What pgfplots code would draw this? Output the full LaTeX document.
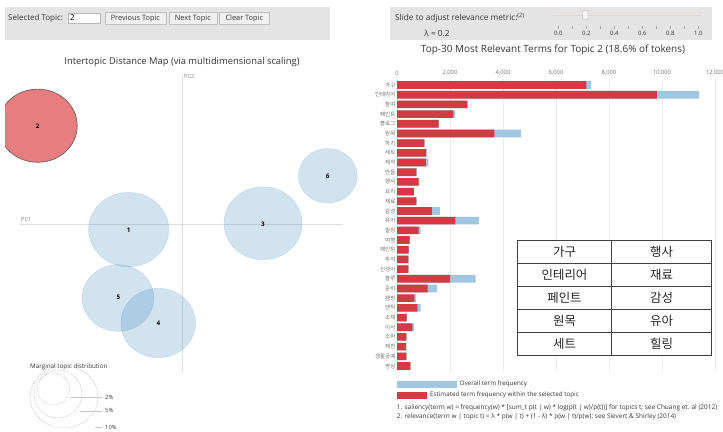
\documentclass[border=0pt]{standalone}
\usepackage{pgfplots}
\pgfplotsset{compat=1.18}
\usepackage{pgfplotstable}
\usepackage{fontspec}
\setmainfont{Open Sans}
\newfontfamily\kr{Noto Sans CJK KR}
\definecolor{barred}{RGB}{212,58,68}
\definecolor{barblue}{RGB}{160,198,226}
\definecolor{cblue}{RGB}{31,119,180}
\definecolor{cred}{RGB}{214,39,40}
\definecolor{panel}{RGB}{228,228,228}
\definecolor{txt}{RGB}{55,55,55}

\pgfplotstableread{
row est total
1 7150 7320
2 9810 11400
3 2650 2680
4 2130 2180
5 1570 1590
6 3670 4680
7 1030 1040
8 1090 1145
9 1090 1180
10 730 740
11 820 840
12 640 650
13 730 740
14 1320 1620
15 2200 3095
16 820 895
17 480 490
18 440 450
19 430 440
20 430 440
21 2000 2970
22 1160 1500
23 655 720
24 770 895
25 365 375
26 580 640
27 350 360
28 340 350
29 350 360
30 500 510
}\terms

\begin{document}
\begin{tikzpicture}
\path[use as bounding box, fill=white] (0,0) rectangle (723bp,-432bp);
\begin{scope}[x=1bp,y=-1bp]
 % ---- left control panel
 \fill[panel] (5,6.7) rectangle (330,40);
 \node[anchor=west, font=\fontsize{8}{9}\selectfont, text=txt, inner sep=0] at (8,18) {Selected Topic:};
 \draw[gray!55, fill=white, line width=0.4pt] (68.3,12.7) rectangle (100,23.6);
 \node[anchor=west, font=\fontsize{8}{9}\selectfont, text=black, inner sep=0] at (70,18) {2};
 \foreach \a/\b/\t in {105/165.7/Previous Topic, 169/216.7/Next Topic, 219.3/269.3/Clear Topic}{
   \draw[gray!50, fill=gray!12, line width=0.4pt] (\a,12.3) rectangle (\b,24.3);
   \node[font=\fontsize{7.4}{8}\selectfont, text=txt, inner sep=0] at ({(\a+\b)/2},18.3) {\t};
 }
 \node[font=\fontsize{9.4}{11}\selectfont, text=txt] at (182,61.7) {Intertopic Distance Map (via multidimensional scaling)};
 % ---- right control panel
 \fill[panel] (390,6.7) rectangle (712,40);
 \node[anchor=west, font=\fontsize{8.3}{9}\selectfont, text=txt, inner sep=0] at (395,18.3) {Slide to adjust relevance metric:\textsuperscript{(2)}};
 \node[font=\fontsize{8.3}{9}\selectfont, text=txt, inner sep=0] at (437,33.3) {λ = 0.2};
 \draw[line width=0.8pt, color={rgb,255:red,226;green,214;blue,210}] (553,15) -- (702,15);
 \foreach \k in {0,...,10}{
   \draw[gray!70, line width=0.35pt] ({558.3+14*\k},25.5) -- ({558.3+14*\k},28.5);
 }
 \foreach \k/\l in {0/0.0,2/0.2,4/0.4,6/0.6,8/0.8,10/1.0}{
   \node[font=\fontsize{6}{7}\selectfont, text=txt, inner sep=0] at ({558.3+14*\k},33.5) {\l};
 }
 \draw[gray!70, fill=gray!8, rounded corners=0.8pt, line width=0.4pt] (582.5,10.5) rectangle (588,19.5);
 \node[font=\fontsize{10}{12}\selectfont, text=txt] at (553,50) {Top-30 Most Relevant Terms for Topic 2 (18.6\% of tokens)};
\end{scope}

% ---------------- left: intertopic distance map
\begin{axis}[at={(5bp,-60bp)}, anchor=north west, scale only axis,
  width=355bp, height=372bp, xmin=5, xmax=360, ymin=60, ymax=432,
  y dir=reverse, axis lines=none, clip marker paths=true]
 \addplot[gray!25, line width=0.5pt] coordinates {(20,224) (343,224)};
 \addplot[gray!25, line width=0.5pt] coordinates {(182,75) (182,372)};
 \node[anchor=west, font=\fontsize{5.6}{6}\selectfont, text=gray, inner sep=0] at (axis cs:21,219) {PC1};
 \node[anchor=west, font=\fontsize{5.6}{6}\selectfont, text=gray, inner sep=0] at (axis cs:184,76.5) {PC2};
 % topic circles
 \addplot[only marks, mark=*, mark size=40.3, mark options={fill=cblue, fill opacity=0.2, draw=cblue, draw opacity=0.2, line width=0.4pt, yscale=0.925}] coordinates {(128.7,229.5)};
 \addplot[only marks, mark=*, mark size=39.7, mark options={fill=cred, fill opacity=0.6, draw=black!65, line width=0.6pt, yscale=0.925}] coordinates {(37.7,125.7)};
 \addplot[only marks, mark=*, mark size=39.2, mark options={fill=cblue, fill opacity=0.2, draw=cblue, draw opacity=0.2, line width=0.4pt, yscale=0.935}] coordinates {(263,223.3)};
 \addplot[only marks, mark=*, mark size=37.5, mark options={fill=cblue, fill opacity=0.2, draw=cblue, draw opacity=0.2, line width=0.4pt, yscale=0.93}] coordinates {(158.2,323)};
 \addplot[only marks, mark=*, mark size=36, mark options={fill=cblue, fill opacity=0.2, draw=cblue, draw opacity=0.2, line width=0.4pt, yscale=0.93}] coordinates {(118,298)};
 \addplot[only marks, mark=*, mark size=29.5, mark options={fill=cblue, fill opacity=0.2, draw=cblue, draw opacity=0.2, line width=0.4pt, yscale=0.93}] coordinates {(327.8,175.8)};
 % topic numbers
 \addplot[draw=none, nodes near coords, point meta=explicit symbolic,
   every node near coord/.style={anchor=center, inner sep=0, font=\fontsize{6.3}{6}\selectfont\bfseries, text=black}]
   coordinates {(128.7,230) [1] (37.7,126) [2] (263,224) [3] (158.3,323.5) [4] (118.3,297.5) [5] (327.7,176) [6]};
 % marginal topic distribution legend
 \node[anchor=west, font=\fontsize{6.3}{7}\selectfont, text=txt, inner sep=0] at (axis cs:30,366.7) {Marginal topic distribution};
 \draw[gray!60, dash pattern=on 0.8pt off 0.8pt, line width=0.4pt] (axis cs:64,397) ellipse [x radius=34bp, y radius=31bp];
 \draw[gray!60, dash pattern=on 0.8pt off 0.8pt, line width=0.4pt] (axis cs:58,394) ellipse [x radius=24bp, y radius=24bp];
 \draw[gray!60, dash pattern=on 0.8pt off 0.8pt, line width=0.4pt] (axis cs:53.5,389) ellipse [x radius=16bp, y radius=16bp];
 \addplot[gray!45, line width=0.4pt] coordinates {(70,397.3) (102,397.3)};
 \addplot[gray!45, line width=0.4pt] coordinates {(80,410.7) (102,410.7)};
 \addplot[gray!45, line width=0.4pt] coordinates {(95,427.3) (102,427.3)};
 \node[anchor=west, font=\fontsize{5.8}{6}\selectfont, text=txt, inner sep=0] at (axis cs:105,397.3) {2\%};
 \node[anchor=west, font=\fontsize{5.8}{6}\selectfont, text=txt, inner sep=0] at (axis cs:105,410.7) {5\%};
 \node[anchor=west, font=\fontsize{5.8}{6}\selectfont, text=txt, inner sep=0] at (axis cs:105,427.3) {10\%};
\end{axis}
% mask the part of topic 2 left of the panel edge
\fill[white] (0,-45bp) rectangle (5bp,-432bp);

% ---------------- right: bar chart
\begin{axis}[at={(397bp,-79.2bp)}, anchor=north west, scale only axis,
  width=318bp, height=292.6bp, xmin=0, xmax=12000, ymin=0.4, ymax=30.6,
  y dir=reverse, axis line style={draw=none}, major tick length=0pt,
  xtick={0,2000,4000,6000,8000,10000,12000}, xticklabel pos=upper, scaled x ticks=false,
  /pgf/number format/assume math mode=true, /pgf/number format/1000 sep={,},
  xticklabel style={font=\fontsize{5.8}{6}\selectfont, text=gray!90!black},
  xmajorgrids, grid style={gray!15, line width=0.4pt},
  ytick={1,...,30},
  yticklabels={가구,인테리어,참여,페인트,블로그,원목,하기,세트,제작,만들,행사,요리,재료,감성,유아,힐링,여행,페인팅,추석,신생아,블루,준비,캠핑,앤틱,소재,이사,소파,제천,생활공예,영상},
  yticklabel style={font=\kr\fontsize{5.5}{6}\selectfont, text=gray!85!black, inner sep=1.5pt},
  clip=false]
 \addplot[xbar, bar width=7.6bp, bar shift=0pt, fill=barblue, draw=none] table[x=total, y=row]{\terms};
 \addplot[xbar, bar width=7.6bp, bar shift=0pt, fill=barred, draw=none] table[x=est, y=row]{\terms};
\end{axis}

\begin{scope}[x=1bp,y=-1bp]
 % overlay table
 \fill[white] (517.3,240) rectangle (711.7,355);
 \draw[black!75, line width=0.8pt] (517.3,240) rectangle (711.7,355);
 \draw[black!75, line width=0.8pt] (611.7,240) -- (611.7,355);
 \foreach \y in {263,286,309,332}{ \draw[black!75, line width=0.8pt] (517.3,\y) -- (711.7,\y); }
 \foreach \r/\a/\b in {0/가구/행사, 1/인테리어/재료, 2/페인트/감성, 3/원목/유아, 4/세트/힐링}{
   \node[font=\kr\fontsize{12.5}{13}\selectfont, text=black!85] at (564.5,{251.5+23*\r}) {\a};
   \node[font=\kr\fontsize{12.5}{13}\selectfont, text=black!85] at (661.7,{251.5+23*\r}) {\b};
 }
 % legend
 \fill[barblue] (396.7,380.5) rectangle (456.5,387.5);
 \node[anchor=west, font=\fontsize{6.3}{7}\selectfont, text=txt, inner sep=0] at (459.5,384) {Overall term frequency};
 \fill[barred] (396.7,391.5) rectangle (426.7,398.5);
 \node[anchor=west, font=\fontsize{6.3}{7}\selectfont, text=txt, inner sep=0] at (430,395) {Estimated term frequency within the selected topic};
 % footnotes
 \node[anchor=west, font=\fontsize{6.5}{8}\selectfont, text=txt, inner sep=0] at (396.7,408) {1. saliency(term w) = frequency(w) * [sum\_t p(t | w) * log(p(t | w)/p(t))] for topics t; see Chuang et. al (2012)};
 \node[anchor=west, font=\fontsize{6.5}{8}\selectfont, text=txt, inner sep=0] at (396.7,416.5) {2. relevance(term w | topic t) = λ * p(w | t) + (1 - λ) * p(w | t)/p(w); see Sievert \& Shirley (2014)};
\end{scope}
\end{tikzpicture}
\end{document}
